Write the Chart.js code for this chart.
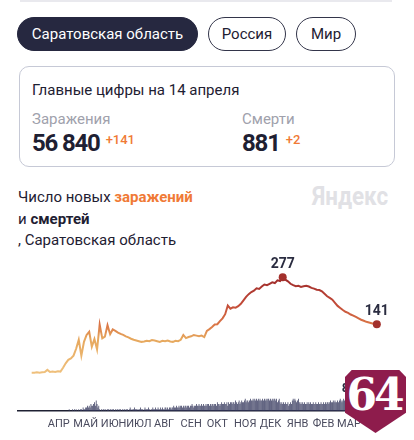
<!DOCTYPE html>
<html lang="ru">
<head>
<meta charset="utf-8">
<script src="https://cdn.jsdelivr.net/npm/chart.js@4.4.1/dist/chart.umd.min.js"></script>
<style>
  body { margin: 0; width: 414px; height: 440px; overflow: hidden; background: #fff; position: relative;
         font-family: Roboto, "Noto Sans", sans-serif; color: #1e2032; }
  .topline { position: absolute; left: 20px; top: 0; width: 372px; height: 2px; background: #e9e9ee; }
  .pill { position: absolute; top: 17px; height: 34px; border-radius: 17px; box-sizing: border-box;
          border: 1px solid #33354a; font-size: 15px; line-height: 32px; text-align: center; color: #1e2032; }
  .pill.active { background: #262840; border-color: #262840; color: #fff; }
  .card { position: absolute; left: 19px; top: 66px; width: 376px; height: 101px; box-sizing: border-box;
          border: 1px solid #c6c9d6; border-radius: 10px; }
  .t { position: absolute; white-space: nowrap; }
  .muted { color: #a0a1ac; font-size: 15px; line-height: 20px; }
  .big { font-size: 24px; font-weight: 700; line-height: 28px; color: #1e2032; letter-spacing: -1.2px; }
  .plus { position: relative; top: -7px; margin-left: 6px; font-size: 13px; color: #f07a36; font-weight: 500; letter-spacing: 0; }
  .title { left: 18px; top: 187px; font-size: 15px; line-height: 21.5px; }
  .title b.o { color: #f07a36; }
  .ya { left: 312px; top: 181px; font-size: 26px; font-weight: 700; line-height: 30px; color: #e1e1e5;
        transform: scaleX(0.86); transform-origin: 0 0; }
  #wrap { position: absolute; left: 0; top: 255px; width: 414px; height: 185px; }
  .badge { position: absolute; left: 345px; top: 370px; width: 61px; height: 63px; background: #8e1c4c;
           clip-path: polygon(11% 0, 89% 0, 100% 11%, 100% 68%, 50% 100%, 0 68%, 0 11%);
           color: #fff; font-family: "DejaVu Serif", "Liberation Serif", serif; font-weight: 700;
           font-size: 44px; line-height: 50px; text-align: center; letter-spacing: -3px; text-indent: -3px; }
</style>
</head>
<body>
<div class="topline"></div>
<div class="pill active" style="left:17px;width:181px;">Саратовская область</div>
<div class="pill" style="left:208px;width:78px;">Россия</div>
<div class="pill" style="left:296px;width:60px;">Мир</div>

<div class="card"></div>
<div class="t" style="left:32px;top:80px;font-size:15px;line-height:20px;">Главные цифры на 14 апреля</div>
<div class="t muted" style="left:32px;top:109px;">Заражения</div>
<div class="t big" style="left:32px;top:129px;">56 840<span class="plus">+141</span></div>
<div class="t muted" style="left:242px;top:109px;">Смерти</div>
<div class="t big" style="left:242px;top:129px;">881<span class="plus">+2</span></div>

<div class="t title">Число новых <b class="o">заражений</b><br>и <b>смертей</b><br>, Саратовская область</div>
<div class="t ya">Яндекс</div>

<div id="wrap"><canvas id="chart" width="414" height="185"></canvas></div>
<div class="badge">64</div>

<script>
// Новые заражения — значения каждые 3 дня, начиная с 15 марта 2020
const caseStep = 3;
const caseValues = [
  1, 1, 2, 1, 2, 3, 9, 3, 4, 3,
  5, 4, 15, 28, 38, 42, 50, 70, 96, 50,
  90, 110, 119, 76, 98, 68, 140, 100, 105, 138,
  112, 126, 122, 117, 113, 110, 106, 103, 99, 96,
  94, 92, 90, 91, 93, 92, 95, 94, 92, 90,
  93, 92, 94, 91, 90, 93, 92, 96, 110, 101,
  104, 106, 110, 108, 106, 108, 104, 122, 127, 133,
  140, 141, 150, 158, 170, 195, 186, 190, 189, 193,
  200, 210, 220, 228, 234, 238, 245, 243, 250, 256,
  254, 258, 262, 260, 268, 266, 277, 270, 265, 258,
  254, 251, 252, 249, 251, 252, 250, 246, 244, 241,
  240, 236, 229, 222, 217, 212, 203, 194, 188, 182,
  177, 174, 169, 166, 162, 158, 154, 151, 148, 146,
  144, 142, 141
];

// Смерти по дням, начиная с 40-го дня
const deathStart = 40;
const deathValues = [
  0,0,0,1,0,0,0,1,0,1,
  0,1,0,0,1,0,1,1,0,2,
  1,1,2,2,3,2,3,2,4,3,
  3,4,5,3,6,4,2,3,1,0,
  1,0,1,1,0,1,0,1,1,0,
  1,1,0,1,1,0,1,0,1,1,
  0,1,1,0,1,0,1,1,0,1,
  1,0,1,2,1,0,1,1,2,1,
  1,1,0,1,1,2,1,1,0,1,
  2,1,1,1,2,1,0,1,1,2,
  1,1,2,1,1,2,1,1,2,1,
  2,1,1,2,2,1,2,1,2,2,
  1,2,2,3,2,2,3,2,2,3,
  2,3,3,2,3,2,3,3,2,3,
  3,2,3,3,4,3,2,3,3,4,
  3,3,4,3,3,4,3,4,3,3,
  4,3,4,4,3,4,3,4,4,3,
  4,4,3,5,4,4,3,4,5,4,
  4,5,4,4,5,3,5,4,5,5,
  4,5,5,4,6,5,4,5,6,4,
  5,6,5,5,6,7,5,6,6,5,
  6,7,6,6,7,6,7,6,7,6,
  7,6,7,6,6,7,6,7,6,7,
  6,7,7,6,7,6,7,6,7,7,
  6,7,5,6,7,5,4,5,4,5,
  4,5,4,4,5,3,4,5,4,6,
  7,6,7,6,5,6,7,5,4,5,
  4,5,4,5,4,4,5,4,5,4,
  5,4,4,5,4,4,5,4,4,5,
  4,4,5,4,4,5,4,5,4,5,
  5,4,5,6,5,5,6,5,6,5,
  5,6,5,6,7,6,5,6,7,6,
  8,6,5,6,5,4,5,4,5,4,
  4,5,4,3,4,3,4,3,4,3,
  3,4,3,3,4,3,2,3,3,2,
  3,2,3,2,2,3,2
];

// Подписи месяцев (день от начала ряда)
const tickDays = [31, 62, 94, 123, 152, 183, 213, 245, 274, 305, 335, 364];
const tickLabels = ['АПР', 'МАЙ', 'ИЮН', 'ИЮЛ', 'АВГ', 'СЕН', 'ОКТ', 'НОЯ', 'ДЕК', 'ЯНВ', 'ФЕВ', 'МАР'];

const casePoints = caseValues.map((v, i) => ({ x: i * caseStep, y: v }));
const deathPoints = deathValues.map((v, i) => ({ x: deathStart + i, y: v }));

const peakIdx = caseValues.indexOf(Math.max(...caseValues));
const lastIdx = caseValues.length - 1;
const deathPeakIdx = deathValues.indexOf(Math.max(...deathValues));

function lineColor(context) {
    const chart = context.chart;
    if (!chart.chartArea) return '#e3a45e';
    const y = chart.scales.y;
    const g = chart.ctx.createLinearGradient(0, y.getPixelForValue(0), 0, y.getPixelForValue(277));
    g.addColorStop(0, '#efc07c');
    g.addColorStop(0.36, '#e6a75d');
    g.addColorStop(0.5, '#db7747');
    g.addColorStop(0.72, '#c24a38');
    g.addColorStop(1, '#9d2a2a');
    return g;
}

// Подписи значений над точками
const valueLabels = {
    id: 'valueLabels',
    afterDatasetsDraw(chart) {
        const ctx = chart.ctx;
        const line = chart.getDatasetMeta(0).data;
        const bars = chart.getDatasetMeta(1).data;
        ctx.save();
        ctx.fillStyle = '#2a2c40';
        ctx.textAlign = 'center';
        ctx.textBaseline = 'bottom';
        ctx.font = 'bold 14px Roboto, "Noto Sans", sans-serif';
        [peakIdx, lastIdx].forEach(i => {
            ctx.fillText(String(caseValues[i]), line[i].x, line[i].y - 6);
        });
        ctx.font = 'bold 13px Roboto, "Noto Sans", sans-serif';
        const b = bars[deathPeakIdx];
        ctx.fillText(String(deathValues[deathPeakIdx]), b.x, b.y - 2);
        ctx.restore();
    }
};

new Chart(document.getElementById('chart').getContext('2d'), {
    type: 'bar',
    data: {
        datasets: [{
            type: 'line',
            label: 'Заражения',
            data: casePoints,
            yAxisID: 'y',
            borderColor: lineColor,
            borderWidth: 2,
            tension: 0,
            pointRadius: ctx => (ctx.dataIndex === peakIdx || ctx.dataIndex === lastIdx) ? 4 : 0,
            pointBackgroundColor: '#a3302c',
            pointBorderWidth: 0
        }, {
            type: 'bar',
            label: 'Смерти',
            data: deathPoints,
            yAxisID: 'y2',
            backgroundColor: '#34375c',
            barPercentage: 0.85,
            categoryPercentage: 1
        }]
    },
    options: {
        responsive: false,
        animation: false,
        layout: { padding: { left: 18, right: 18, top: 7, bottom: 0 } },
        plugins: { legend: { display: false }, tooltip: { enabled: false } },
        scales: {
            x: {
                type: 'linear',
                min: -15.7,
                max: 418,
                offset: false,
                grid: { display: false, drawTicks: false },
                border: { display: true, color: '#1e2032', width: 1.5 },
                afterBuildTicks: scale => { scale.ticks = tickDays.map(v => ({ value: v })); },
                afterFit: scale => { scale.height = 29; },
                ticks: {
                    autoSkip: false,
                    maxRotation: 0,
                    padding: 7,
                    color: '#4a4b5e',
                    font: { family: 'Roboto, "Noto Sans", sans-serif', size: 11 },
                    callback: value => tickLabels[tickDays.indexOf(value)]
                }
            },
            y: { display: false, min: -110, max: 321 },
            y2: { display: false, min: 0, max: 85 }
        }
    },
    plugins: [valueLabels]
});
</script>
</body>
</html>
